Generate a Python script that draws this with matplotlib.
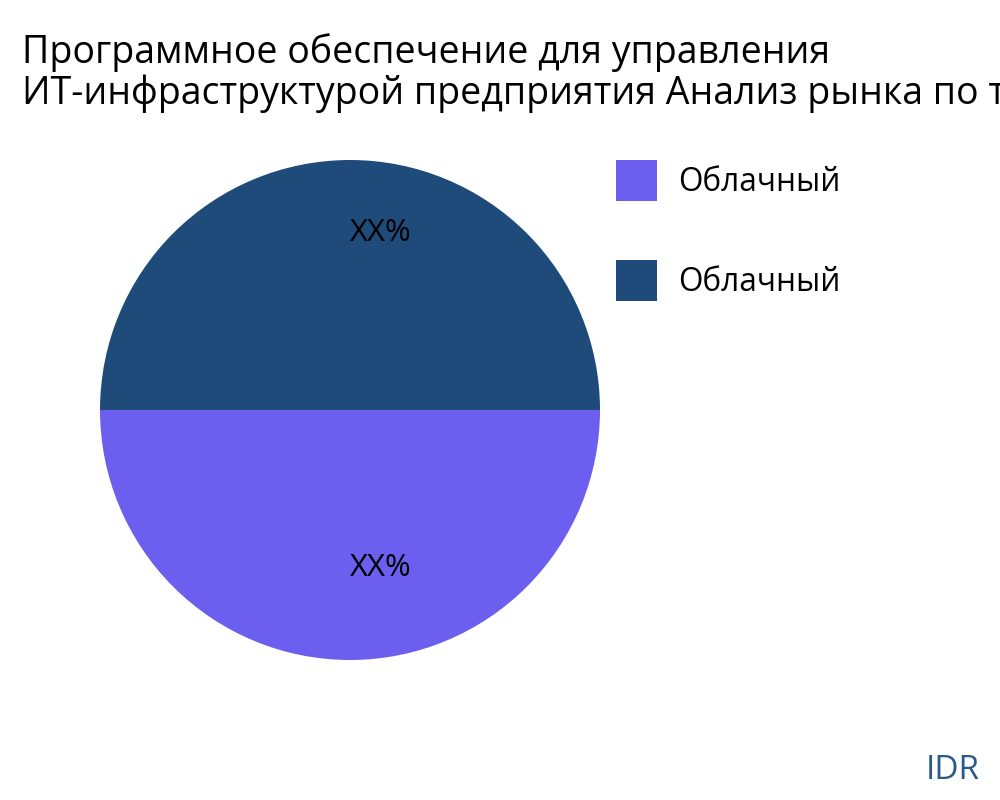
import numpy as np
import matplotlib
matplotlib.use('Agg')
import matplotlib.pyplot as plt

# dades del gràfic
categories = ['Облачный', 'Облачный']
values = [50, 50]
pct_labels = ['XX%', 'XX%']
colors = ['#6C5FF0', '#1F4B7B']
title = 'Программное обеспечение для управления\nИТ-инфраструктурой предприятия Анализ рынка по типу'

plt.rcParams['font.family'] = ['Open Sans', 'DejaVu Sans']

fig = plt.figure(figsize=(10, 8), dpi=100)
ax = fig.add_axes([0.1, 0.175, 0.5, 0.625])

wedges, _ = ax.pie(values, colors=colors, startangle=180, counterclock=True,
                   radius=1, wedgeprops=dict(linewidth=0))
ax.set_xlim(-1, 1)
ax.set_ylim(-1, 1)
ax.set_aspect('equal')
ax.axis('off')

# etiquetes de percentatge dins de cada sector
for w, lab in zip(wedges, pct_labels):
    ang = np.deg2rad((w.theta1 + w.theta2) / 2)
    r = 0.67 + 0.046 * np.sin(ang)
    ax.text(0.122 + r * np.cos(ang), r * np.sin(ang) - 0.008,
            lab, ha='center', va='center', fontsize=22.4, color='black')

# llegenda
leg = fig.legend(wedges, categories, loc='upper left', bbox_to_anchor=(0.616, 0.8),
                 frameon=False, fontsize=22.7, handlelength=1.3, handleheight=1.62,
                 labelspacing=1.87, handletextpad=0.67, borderaxespad=0, borderpad=0)

fig.text(0.022, 0.909, title, ha='left', va='center', fontsize=27,
         color='black', linespacing=1.1)
fig.text(0.98, 0.037, 'IDR', ha='right', va='center', fontsize=24, color='#2A5A8A')

fig.savefig('out.png', dpi=100)
